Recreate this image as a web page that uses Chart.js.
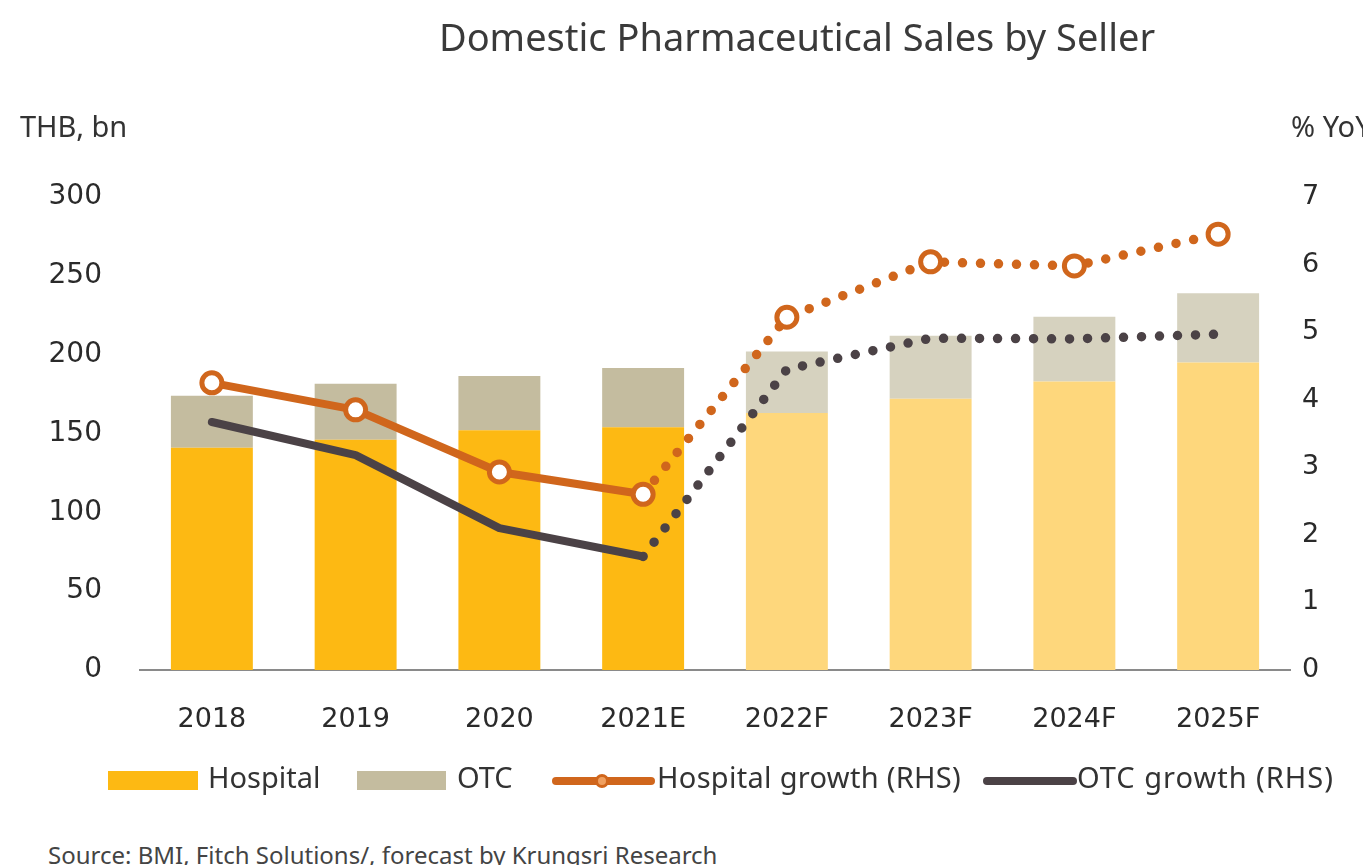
<!DOCTYPE html>
<html>
<head>
<meta charset="utf-8">
<script src="https://cdn.jsdelivr.net/npm/chart.js@4.4.0/dist/chart.umd.min.js"></script>
<style>
    body { margin: 0; width: 1363px; height: 865px; overflow: hidden; background: #fff; font-family: "Noto Sans", sans-serif; color: #333; position: relative; }
    #chart { position: absolute; left: 0; top: 0; }
    .txt { position: absolute; white-space: nowrap; line-height: 1; }
    .sw { position: absolute; }
</style>
</head>
<body>
<canvas id="chart" width="1363" height="760"></canvas>
<div class="txt" style="left:0;width:1594px;text-align:center;top:17px;font-size:38px;color:#3a3a3a;">Domestic Pharmaceutical Sales by Seller</div>
<div class="txt" style="left:20px;top:111px;font-size:29px;">THB, bn</div>
<div class="txt" style="left:1291px;top:111px;font-size:29px;">% YoY</div>

<div class="sw" style="left:108px;top:771px;width:90px;height:19px;background:#FDB913;"></div>
<div class="txt" style="left:208px;top:762px;font-size:29px;">Hospital</div>
<div class="sw" style="left:357px;top:771px;width:89px;height:19px;background:#C4BC9F;"></div>
<div class="txt" style="left:457px;top:762px;font-size:29px;">OTC</div>
<div class="sw" style="left:552px;top:777px;width:103px;height:8px;border-radius:4px;background:#D0661C;"></div>
<div class="sw" style="left:595px;top:774px;width:8px;height:8px;border-radius:50%;border:3px solid #D0661C;background:#F0A060;"></div>
<div class="txt" style="left:657px;top:762px;font-size:29px;letter-spacing:0.3px;">Hospital growth (RHS)</div>
<div class="sw" style="left:983px;top:777px;width:94px;height:8px;border-radius:4px;background:#4B4246;"></div>
<div class="txt" style="left:1077px;top:762px;font-size:29px;letter-spacing:1px;">OTC growth (RHS)</div>

<div class="txt" style="left:48px;top:843px;font-size:24px;color:#444;">Source: BMI, Fitch Solutions/, forecast by Krungsri Research</div>

<script>
'use strict';
var years = ['2018', '2019', '2020', '2021E', '2022F', '2023F', '2024F', '2025F'];
var hospitalSales = [141, 146, 152, 154, 163, 172, 183, 195];
var otcSales = [33, 35.5, 34.5, 37.5, 39, 40, 41, 44];
var hospitalGrowth = [4.25, 3.85, 2.93, 2.6, 5.22, 6.04, 5.98, 6.45];
var otcGrowth = [3.67, 3.18, 2.1, 1.68, 4.45, 4.91, 4.9, 4.97];
var leftTicks = [0, 50, 100, 150, 200, 250, 300];
var rightTicks = [0, 1, 2, 3, 4, 5, 6, 7];

var lastActual = 3;

function byPhase(actual, forecast) {
    return years.map(function(y, i) { return i <= lastActual ? actual : forecast; });
}

// forecast part of the lines is drawn as round dots
var dotted = function(ctx) {
    return ctx.p0DataIndex >= lastActual ? [0, 18] : undefined;
};
var dotWidth = function(ctx) {
    return ctx.p0DataIndex >= lastActual ? 9.5 : 8;
};

var ctx = document.getElementById('chart').getContext('2d');
var chart = new Chart(ctx, {
    data: {
        labels: years,
        datasets: [
            {
                type: 'line',
                label: 'Hospital growth (RHS)',
                data: hospitalGrowth,
                yAxisID: 'y2',
                borderColor: '#D0661C',
                borderWidth: 8,
                borderCapStyle: 'round',
                borderJoinStyle: 'round',
                pointRadius: 10,
                pointBorderWidth: 5,
                pointBackgroundColor: '#fff',
                pointBorderColor: '#D0661C',
                tension: 0,
                segment: { borderDash: dotted, borderWidth: dotWidth },
                order: 0
            },
            {
                type: 'line',
                label: 'OTC growth (RHS)',
                data: otcGrowth,
                yAxisID: 'y2',
                borderColor: '#4B4246',
                borderWidth: 8,
                borderCapStyle: 'round',
                borderJoinStyle: 'round',
                pointRadius: 0,
                tension: 0,
                segment: { borderDash: dotted, borderWidth: dotWidth },
                order: 1
            },
            {
                type: 'bar',
                label: 'Hospital',
                data: hospitalSales,
                yAxisID: 'y',
                backgroundColor: byPhase('#FDB913', '#FED77C'),
                barPercentage: 0.57,
                categoryPercentage: 1,
                stack: 's',
                order: 2
            },
            {
                type: 'bar',
                label: 'OTC',
                data: otcSales,
                yAxisID: 'y',
                backgroundColor: byPhase('#C4BC9F', '#D6D2BF'),
                barPercentage: 0.57,
                categoryPercentage: 1,
                stack: 's',
                order: 3
            }
        ]
    },
    options: {
        responsive: false,
        animation: false,
        layout: { padding: { top: 197, left: 0, right: 0, bottom: 0 } },
        plugins: {
            legend: { display: false },
            title: { display: false },
            tooltip: { enabled: false }
        },
        scales: {
            x: {
                stacked: true,
                grid: { display: false, drawTicks: false },
                border: { display: true, color: '#8a8a8a', width: 2 },
                ticks: { padding: 34, color: '#2a2a2a', font: { family: 'DejaVu Sans', size: 27 } },
                afterFit: function(scale) { scale.height = 90; }
            },
            y: {
                position: 'left',
                stacked: true,
                min: 0,
                max: 300,
                afterBuildTicks: function(scale) {
                    scale.ticks = leftTicks.map(function(v) { return { value: v }; });
                },
                grid: { display: false, drawTicks: false },
                border: { display: false },
                ticks: { padding: 38, color: '#2a2a2a', font: { family: 'DejaVu Sans', size: 28 } },
                afterFit: function(scale) { scale.width = 140; }
            },
            y2: {
                position: 'right',
                min: 0,
                max: 7,
                afterBuildTicks: function(scale) {
                    scale.ticks = rightTicks.map(function(v) { return { value: v }; });
                },
                grid: { display: false, drawTicks: false },
                border: { display: false },
                ticks: { padding: 12, color: '#2a2a2a', font: { family: 'DejaVu Sans', size: 27 } },
                afterFit: function(scale) { scale.width = 73; }
            }
        }
    }
});
</script>
</body>
</html>
